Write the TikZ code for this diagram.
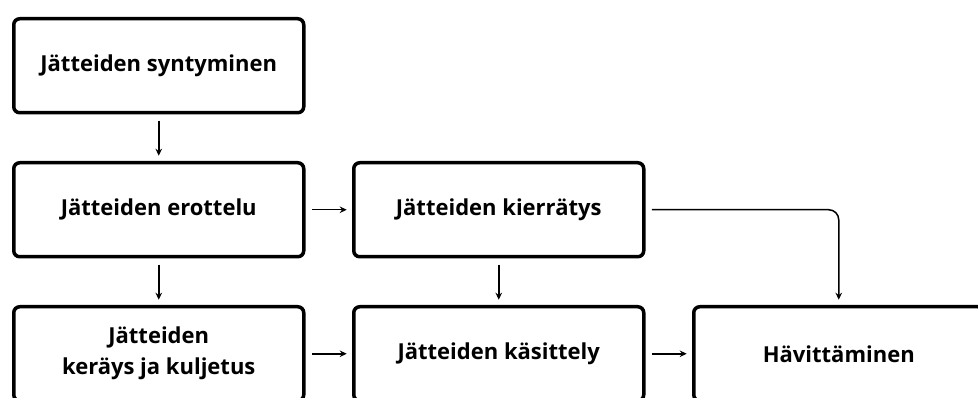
\documentclass[tikz,border=0pt]{standalone}
\usepackage{fontspec}
\setmainfont{Open Sans}
\usetikzlibrary{positioning,arrows.meta}

\begin{document}
\begin{tikzpicture}[x=1pt, y=1pt, node distance=50pt and 50pt,
  every node/.style={font=\bfseries\fontsize{22}{31}\selectfont},
  b/.style={draw, line width=3.5pt, rounded corners=6pt, align=center, minimum width=290pt, minimum height=94pt, inner sep=0pt, outer sep=0pt},
  a/.style={-{Stealth[length=7pt, width=6.5pt]}, line width=1.5pt, shorten >=7pt, shorten <=8pt}]
\useasboundingbox (0,0) rectangle (978,-398);
\node[b, anchor=north west] (gen) at (13.75,-18.75) {Jätteiden syntyminen};
\node[b, below=of gen] (sep) {Jätteiden erottelu};
\node[b, right=of sep] (rec) {Jätteiden kierrätys};
\node[b, below=of sep] (col) {Jätteiden\\keräys ja kuljetus};
\node[b, right=of col] (tre) {Jätteiden käsittely};
\node[b, right=of tre] (dis) {Hävittäminen};
\draw[a] (gen) -- (sep); \draw[a] (sep) -- (rec); \draw[a] (sep) -- (col); \draw[a] (rec) -- (tre);
\draw[a] (col) -- (tre); \draw[a] (tre) -- (dis);
\draw[a, rounded corners=10pt] (rec.east) -| (dis.north);
\end{tikzpicture}
\end{document}
